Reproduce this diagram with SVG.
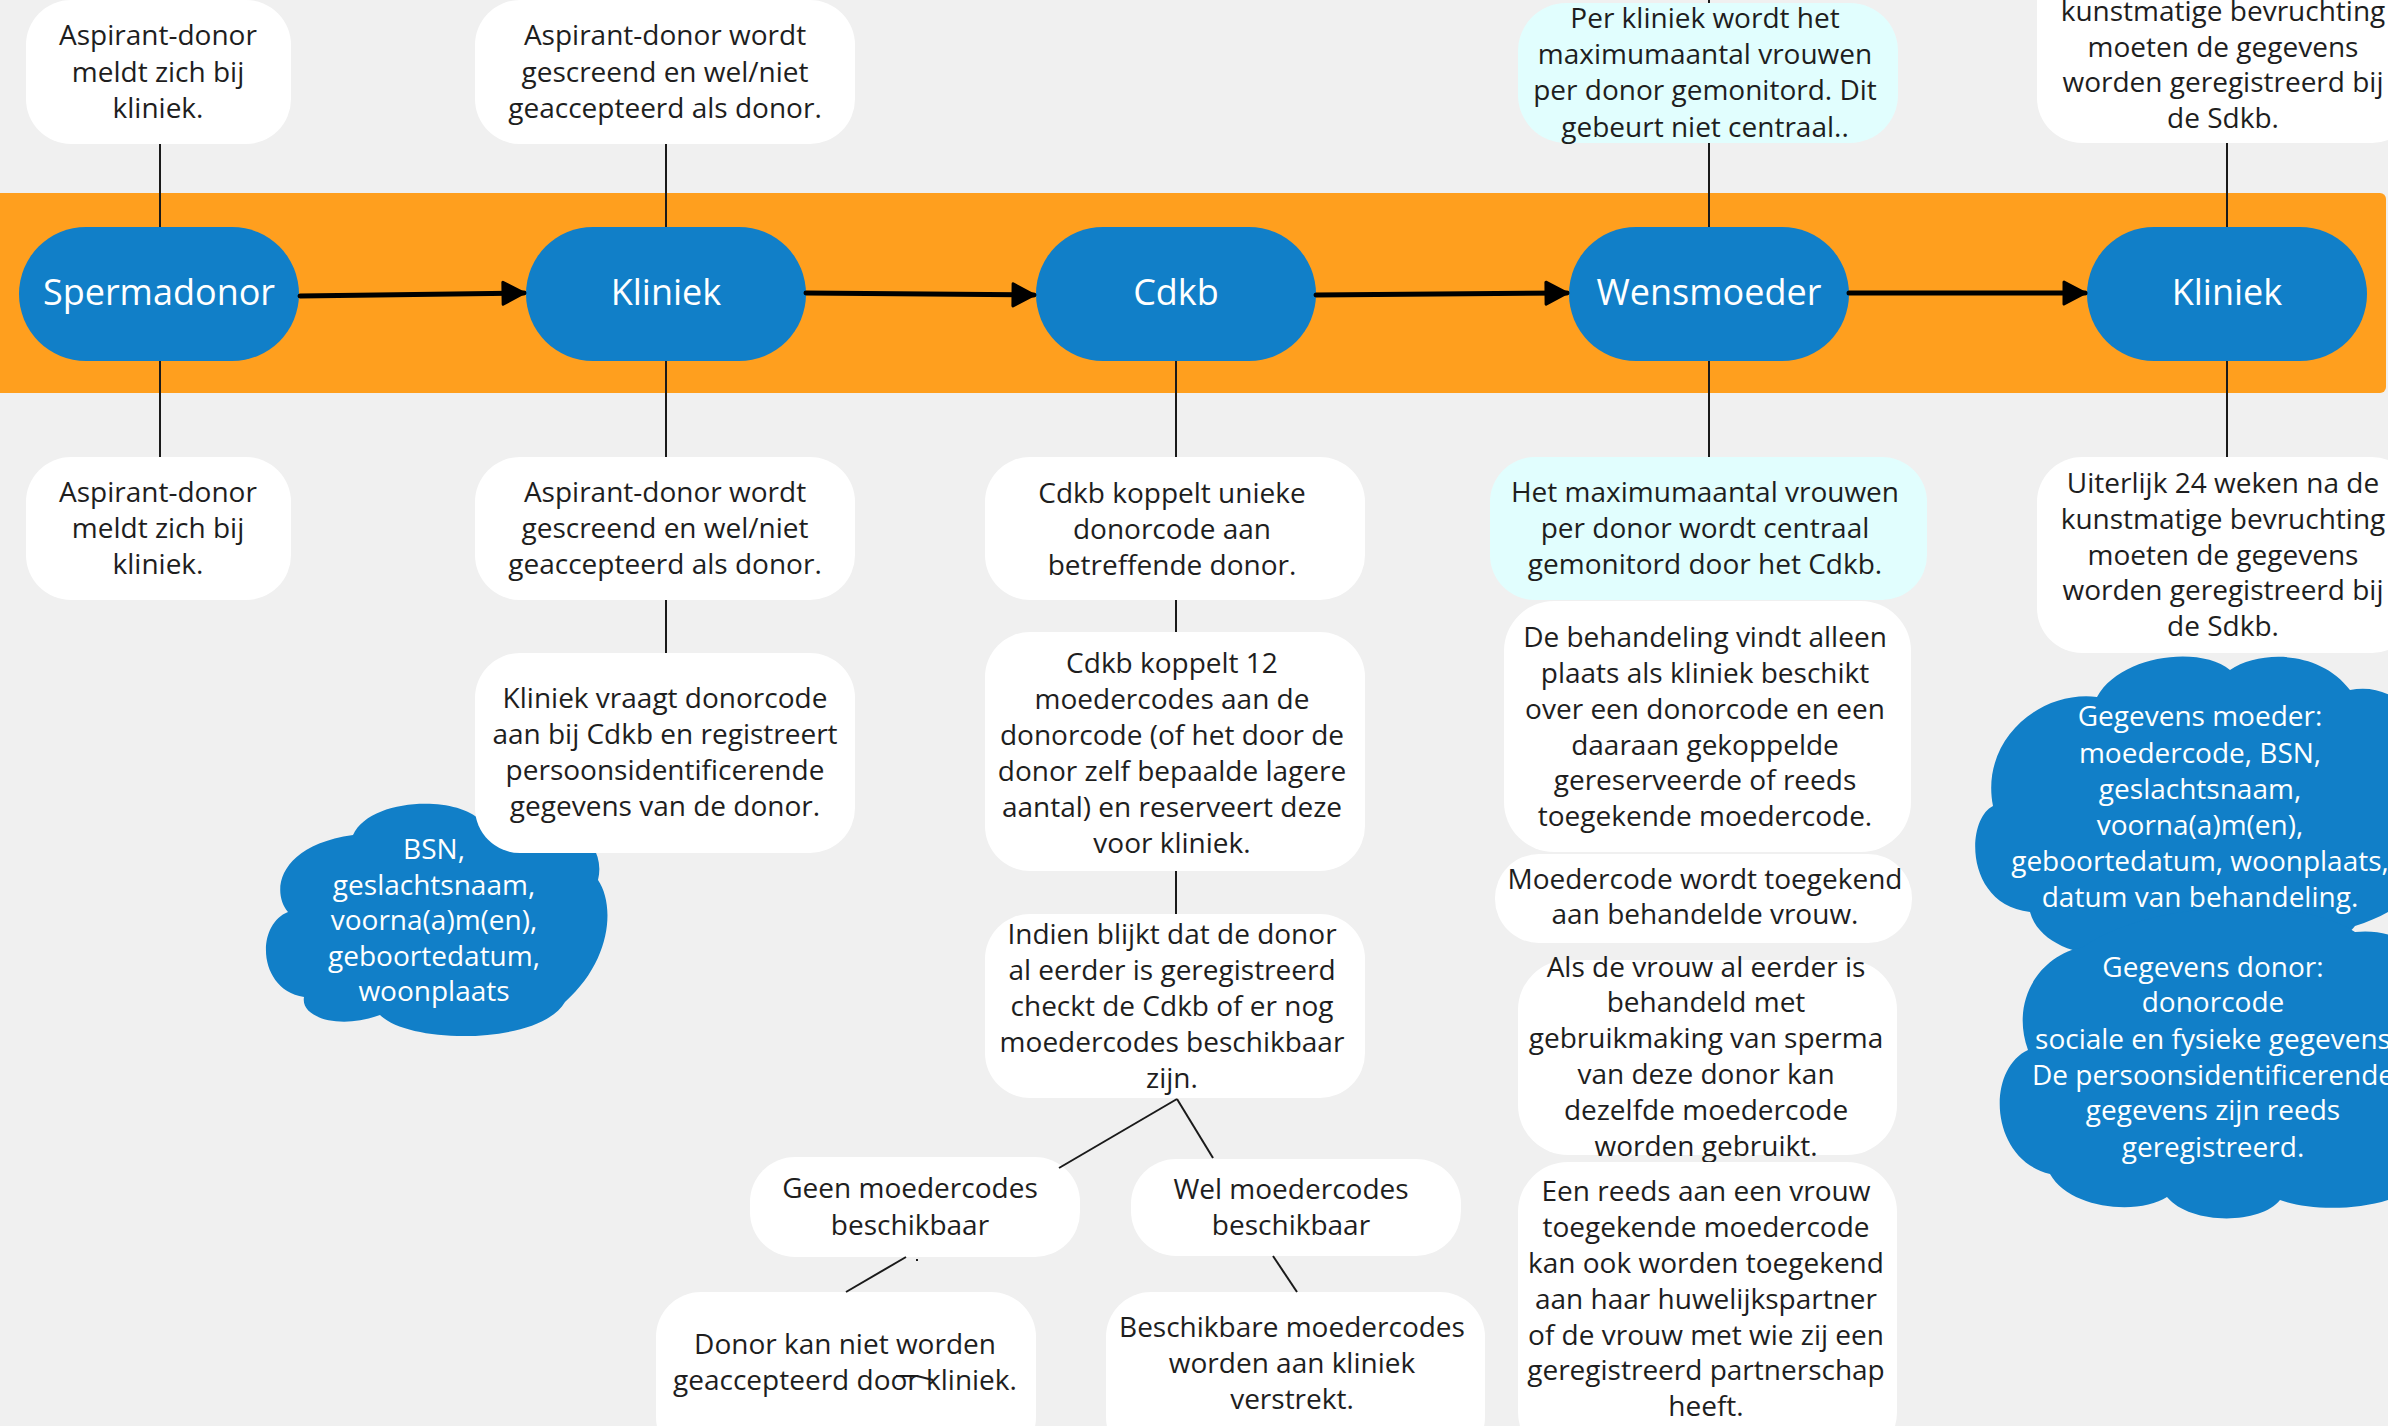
<svg xmlns="http://www.w3.org/2000/svg" width="2388" height="1426" viewBox="0 0 2388 1426">
<defs>
<style>
.bg{fill:#f0f0f0}
.band{fill:#ff9f1e}
.node{fill:#117fc8}
.nl{font-family:"Open Sans","DejaVu Sans",sans-serif;font-size:36px;fill:#ffffff;text-anchor:middle}
.box{fill:#ffffff}
.cyan{fill:#e1fefe}
.cloud{fill:#117fc8}
.t{font-family:"Open Sans","DejaVu Sans",sans-serif;font-size:28px;fill:#1e1e1e;text-anchor:middle}
.ct{font-family:"Open Sans","DejaVu Sans",sans-serif;font-size:28px;fill:#ffffff;text-anchor:middle}
.conn{stroke:#1a1a1a;stroke-width:2;fill:none}
.arrow{stroke:#000000;stroke-width:5;fill:none;stroke-linecap:round}
</style>
<marker id="ah" markerUnits="userSpaceOnUse" markerWidth="30" markerHeight="30" refX="22" refY="12" orient="auto" viewBox="-3 -3 30 30">
<path d="M1,1 L22,12 L1,23 Z" fill="#000" stroke="#000" stroke-width="3" stroke-linejoin="round"/>
</marker>
</defs>
<rect class="bg" x="0" y="0" width="2388" height="1426"/>
<rect class="band" x="-10" y="193" width="2396" height="200" rx="6"/>

<g id="cloud-bsn">
<path class="cloud" d="M353,835 C370,798 455,795 480,820 C540,800 610,830 598,880 C615,905 612,960 565,1002 C540,1045 410,1045 380,1015 C340,1030 300,1018 304,997 C258,990 255,925 288,912 C270,890 280,845 353,835 Z"/>
<text class="ct"><tspan x="434" y="859">BSN,</tspan><tspan x="434" y="895">geslachtsnaam,</tspan><tspan x="434" y="930">voorna(a)m(en),</tspan><tspan x="434" y="966">geboortedatum,</tspan><tspan x="434" y="1001">woonplaats</tspan></text>
</g>
<g id="cloud-moeder">
<path class="cloud" d="M2097,697 C2120,655 2200,645 2230,670 C2260,650 2320,650 2350,690 C2400,680 2440,730 2420,790 C2460,830 2440,900 2355,926 C2330,960 2200,965 2150,950 C2100,965 2040,950 2030,912 C1965,905 1965,820 1993,806 C1980,740 2040,690 2097,697 Z"/>
</g>
<g id="cloud-donor">
<path class="cloud" d="M2083,947 C2150,900 2300,895 2355,932 C2420,925 2450,985 2430,1020 C2470,1080 2470,1150 2430,1170 C2410,1210 2320,1215 2280,1200 C2260,1225 2190,1225 2167,1197 C2140,1215 2070,1210 2050,1174 C1990,1160 1985,1070 2028,1050 C2010,1000 2040,955 2083,947 Z"/>
</g>
<g id="cloud-texts">
<text class="ct"><tspan x="2200" y="726">Gegevens moeder:</tspan><tspan x="2200" y="763">moedercode, BSN,</tspan><tspan x="2200" y="799">geslachtsnaam,</tspan><tspan x="2200" y="835">voorna(a)m(en),</tspan><tspan x="2200" y="871">geboortedatum, woonplaats,</tspan><tspan x="2200" y="907">datum van behandeling.</tspan></text>
<text class="ct"><tspan x="2213" y="977">Gegevens donor:</tspan><tspan x="2213" y="1012">donorcode</tspan><tspan x="2213" y="1049">sociale en fysieke gegevens</tspan><tspan x="2213" y="1085">De persoonsidentificerende</tspan><tspan x="2213" y="1120">gegevens zijn reeds</tspan><tspan x="2213" y="1157">geregistreerd.</tspan></text>
</g>

<g id="n-spermadonor"><rect class="node" x="19" y="227" width="280" height="134" rx="67"/><text class="nl" x="159" y="305">Spermadonor</text></g>
<g id="n-kliniek1"><rect class="node" x="526" y="227" width="280" height="134" rx="67"/><text class="nl" x="666" y="305">Kliniek</text></g>
<g id="n-cdkb"><rect class="node" x="1036" y="227" width="280" height="134" rx="67"/><text class="nl" x="1176" y="305">Cdkb</text></g>
<g id="n-wensmoeder"><rect class="node" x="1569" y="227" width="280" height="134" rx="67"/><text class="nl" x="1709" y="305">Wensmoeder</text></g>
<g id="n-kliniek2"><rect class="node" x="2087" y="227" width="280" height="134" rx="67"/><text class="nl" x="2227" y="305">Kliniek</text></g>

<g id="t1"><rect class="box" x="26" y="0" width="265" height="144" rx="45"/><text class="t"><tspan x="158" y="45">Aspirant-donor</tspan><tspan x="158" y="82">meldt zich bij</tspan><tspan x="158" y="118">kliniek.</tspan></text></g>
<g id="t2"><rect class="box" x="475" y="0" width="380" height="144" rx="45"/><text class="t"><tspan x="665" y="45">Aspirant-donor wordt</tspan><tspan x="665" y="82">gescreend en wel/niet</tspan><tspan x="665" y="118">geaccepteerd als donor.</tspan></text></g>
<g id="t3"><rect class="cyan" x="1518" y="3" width="380" height="140" rx="48"/><text class="t"><tspan x="1705" y="28">Per kliniek wordt het</tspan><tspan x="1705" y="64">maximumaantal vrouwen</tspan><tspan x="1705" y="100">per donor gemonitord. Dit</tspan><tspan x="1705" y="137">gebeurt niet centraal..</tspan></text></g>
<g id="t4"><rect class="box" x="2037" y="-50" width="380" height="193" rx="45"/><text class="t"><tspan x="2223" y="21">kunstmatige bevruchting</tspan><tspan x="2223" y="57">moeten de gegevens</tspan><tspan x="2223" y="92">worden geregistreerd bij</tspan><tspan x="2223" y="128">de Sdkb.</tspan></text></g>

<g id="b1"><rect class="box" x="26" y="457" width="265" height="143" rx="45"/><text class="t"><tspan x="158" y="502">Aspirant-donor</tspan><tspan x="158" y="538">meldt zich bij</tspan><tspan x="158" y="574">kliniek.</tspan></text></g>
<g id="b2"><rect class="box" x="475" y="457" width="380" height="143" rx="45"/><text class="t"><tspan x="665" y="502">Aspirant-donor wordt</tspan><tspan x="665" y="538">gescreend en wel/niet</tspan><tspan x="665" y="574">geaccepteerd als donor.</tspan></text></g>
<g id="b2b"><rect class="box" x="475" y="653" width="380" height="200" rx="45"/><text class="t"><tspan x="665" y="708">Kliniek vraagt donorcode</tspan><tspan x="665" y="744">aan bij Cdkb en registreert</tspan><tspan x="665" y="780">persoonsidentificerende</tspan><tspan x="665" y="816">gegevens van de donor.</tspan></text></g>

<g id="b3"><rect class="box" x="985" y="457" width="380" height="143" rx="45"/><text class="t"><tspan x="1172" y="503">Cdkb koppelt unieke</tspan><tspan x="1172" y="539">donorcode aan</tspan><tspan x="1172" y="575">betreffende donor.</tspan></text></g>
<g id="b3b"><rect class="box" x="985" y="632" width="380" height="239" rx="45"/><text class="t"><tspan x="1172" y="673">Cdkb koppelt 12</tspan><tspan x="1172" y="709">moedercodes aan de</tspan><tspan x="1172" y="745">donorcode (of het door de</tspan><tspan x="1172" y="781">donor zelf bepaalde lagere</tspan><tspan x="1172" y="817">aantal) en reserveert deze</tspan><tspan x="1172" y="853">voor kliniek.</tspan></text></g>
<g id="b3c"><rect class="box" x="985" y="914" width="380" height="184" rx="45"/><text class="t"><tspan x="1172" y="944">Indien blijkt dat de donor</tspan><tspan x="1172" y="980">al eerder is geregistreerd</tspan><tspan x="1172" y="1016">checkt de Cdkb of er nog</tspan><tspan x="1172" y="1052">moedercodes beschikbaar</tspan><tspan x="1172" y="1088">zijn.</tspan></text></g>
<g id="b-geen"><rect class="box" x="750" y="1157" width="330" height="100" rx="45"/><text class="t"><tspan x="910" y="1198">Geen moedercodes</tspan><tspan x="910" y="1235">beschikbaar</tspan></text></g>
<g id="b-wel"><rect class="box" x="1131" y="1159" width="330" height="97" rx="45"/><text class="t"><tspan x="1291" y="1199">Wel moedercodes</tspan><tspan x="1291" y="1235">beschikbaar</tspan></text></g>
<g id="b-donorkan"><rect class="box" x="656" y="1292" width="380" height="170" rx="45"/><text class="t"><tspan x="845" y="1354">Donor kan niet worden</tspan><tspan x="845" y="1390">geaccepteerd door kliniek.</tspan></text></g>
<g id="b-beschikbare"><rect class="box" x="1106" y="1292" width="379" height="170" rx="45"/><text class="t"><tspan x="1292" y="1337">Beschikbare moedercodes</tspan><tspan x="1292" y="1373">worden aan kliniek</tspan><tspan x="1292" y="1409">verstrekt.</tspan></text></g>

<g id="w1"><rect class="cyan" x="1490" y="457" width="437" height="143" rx="45"/><text class="t"><tspan x="1705" y="502">Het maximumaantal vrouwen</tspan><tspan x="1705" y="538">per donor wordt centraal</tspan><tspan x="1705" y="574">gemonitord door het Cdkb.</tspan></text></g>
<g id="w2"><rect class="box" x="1504" y="601" width="407" height="251" rx="50"/><text class="t"><tspan x="1705" y="647">De behandeling vindt alleen</tspan><tspan x="1705" y="683">plaats als kliniek beschikt</tspan><tspan x="1705" y="719">over een donorcode en een</tspan><tspan x="1705" y="755">daaraan gekoppelde</tspan><tspan x="1705" y="790">gereserveerde of reeds</tspan><tspan x="1705" y="826">toegekende moedercode.</tspan></text></g>
<g id="w3"><rect class="box" x="1495" y="854" width="417" height="89" rx="44"/><text class="t"><tspan x="1705" y="889">Moedercode wordt toegekend</tspan><tspan x="1705" y="924">aan behandelde vrouw.</tspan></text></g>
<g id="w4"><rect class="box" x="1518" y="960" width="379" height="195" rx="50"/><text class="t"><tspan x="1706" y="977">Als de vrouw al eerder is</tspan><tspan x="1706" y="1012">behandeld met</tspan><tspan x="1706" y="1048">gebruikmaking van sperma</tspan><tspan x="1706" y="1084">van deze donor kan</tspan><tspan x="1706" y="1120">dezelfde moedercode</tspan><tspan x="1706" y="1156">worden gebruikt.</tspan></text></g>
<g id="w5"><rect class="box" x="1518" y="1162" width="379" height="300" rx="50"/><text class="t"><tspan x="1706" y="1201">Een reeds aan een vrouw</tspan><tspan x="1706" y="1237">toegekende moedercode</tspan><tspan x="1706" y="1273">kan ook worden toegekend</tspan><tspan x="1706" y="1309">aan haar huwelijkspartner</tspan><tspan x="1706" y="1345">of de vrouw met wie zij een</tspan><tspan x="1706" y="1380">geregistreerd partnerschap</tspan><tspan x="1706" y="1416">heeft.</tspan></text></g>

<g id="k1"><rect class="box" x="2037" y="457" width="380" height="196" rx="45"/><text class="t"><tspan x="2223" y="493">Uiterlijk 24 weken na de</tspan><tspan x="2223" y="529">kunstmatige bevruchting</tspan><tspan x="2223" y="565">moeten de gegevens</tspan><tspan x="2223" y="600">worden geregistreerd bij</tspan><tspan x="2223" y="636">de Sdkb.</tspan></text></g>

<g id="connectors">
<line class="arrow" x1="300" y1="296" x2="524" y2="293" marker-end="url(#ah)"/>
<line class="arrow" x1="806" y1="293" x2="1034" y2="295" marker-end="url(#ah)"/>
<line class="arrow" x1="1316" y1="295" x2="1567" y2="293" marker-end="url(#ah)"/>
<line class="arrow" x1="1849" y1="293" x2="2085" y2="293" marker-end="url(#ah)"/>
<line class="conn" x1="160" y1="144" x2="160" y2="227"/>
<line class="conn" x1="160" y1="361" x2="160" y2="457"/>
<line class="conn" x1="666" y1="144" x2="666" y2="227"/>
<line class="conn" x1="666" y1="361" x2="666" y2="457"/>
<line class="conn" x1="666" y1="600" x2="666" y2="653"/>
<line class="conn" x1="1176" y1="361" x2="1176" y2="457"/>
<line class="conn" x1="1176" y1="600" x2="1176" y2="632"/>
<line class="conn" x1="1176" y1="871" x2="1176" y2="914"/>
<line class="conn" x1="1709" y1="0" x2="1709" y2="3"/>
<line class="conn" x1="1709" y1="143" x2="1709" y2="227"/>
<line class="conn" x1="1709" y1="361" x2="1709" y2="457"/>
<line class="conn" x1="2227" y1="143" x2="2227" y2="227"/>
<line class="conn" x1="2227" y1="361" x2="2227" y2="457"/>
<line class="conn" x1="1177" y1="1099" x2="1059" y2="1168"/>
<line class="conn" x1="1177" y1="1099" x2="1213" y2="1158"/>
<line class="conn" x1="906" y1="1257" x2="846" y2="1292"/>
<line class="conn" x1="917" y1="1259" x2="917" y2="1261"/>
<line class="conn" x1="1273" y1="1256" x2="1297" y2="1292"/>
<polyline class="conn" points="896,1376 917,1376 933,1380"/>
</g>
</svg>
